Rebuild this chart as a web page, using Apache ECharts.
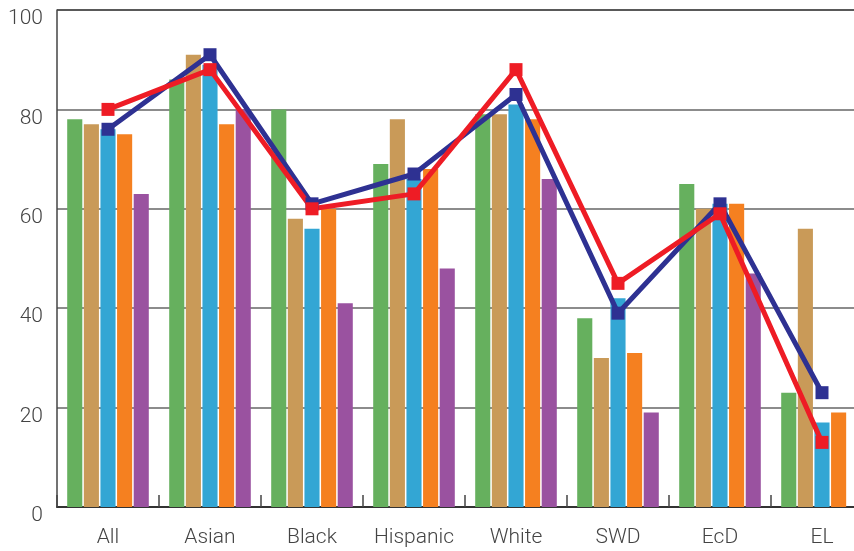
<!DOCTYPE html>
<html>
<head>
<meta charset="utf-8">
<script src="https://cdn.jsdelivr.net/npm/echarts@6/dist/echarts.min.js"></script>
<style>html,body{margin:0;padding:0;background:#fff}#c{width:854px;height:551px}</style>
</head>
<body>
<div id="c"></div>
<script>
var categories = ['All', 'Asian', 'Black', 'Hispanic', 'White', 'SWD', 'EcD', 'EL'];
var yTicks = [0, 20, 40, 60, 80, 100];
var barGreen  = [78, 86, 80, 69, 79, 38, 65, 23];
var barTan    = [77, 91, 58, 78, 79, 30, 60, 56];
var barBlue   = [76, 89, 56, 66, 81, 42, 61, 17];
var barOrange = [75, 77, 60, 68, 78, 31, 61, 19];
var barPurple = [63, 80, 41, 48, 66, 19, 47, null];
var lineNavy  = [76, 91, 61, 67, 83, 39, 61, 23];
var lineRed   = [80, 88, 60, 63, 88, 45, 59, 13];

var chart = echarts.init(document.getElementById('c'));
var font = 'Roboto';
function bar(name, data, color) {
  return { name: name, type: 'bar', data: data, barCategoryGap: '20%', barGap: '10%',
    itemStyle: { color: color }, silent: true };
}
function line(name, data, color) {
  return { name: name, type: 'line', data: data, symbol: 'rect', symbolSize: 13,
    lineStyle: { color: color, width: 5 }, itemStyle: { color: color },
    z: 5, silent: true, animation: false };
}
chart.setOption({
  animation: false,
  grid: { left: 57, top: 10, width: 816, height: 497, outerBoundsMode: 'none', containLabel: false },
  xAxis: {
    type: 'category', data: categories,
    axisLine: { lineStyle: { color: '#333', width: 2 } },
    axisTick: { show: true, inside: true, length: 12, lineStyle: { color: '#444', width: 1.5 } },
    axisLabel: { interval: 0, color: '#444', fontSize: 21, fontFamily: font, fontWeight: 300, margin: 20 }
  },
  yAxis: {
    type: 'value', min: yTicks[0], max: yTicks[yTicks.length - 1], interval: 20,
    axisLine: { show: true, lineStyle: { color: '#444', width: 1.5 } },
    axisTick: { show: false },
    axisLabel: { color: '#444', fontSize: 21, fontFamily: font, fontWeight: 300, margin: 14,
      verticalAlign: 'top', lineHeight: 18 },
    splitLine: { show: true, lineStyle: { color: ['#333', '#666', '#666', '#666', '#666', '#222'], width: 1.5 } }
  },
  series: [
    bar('g', barGreen, '#66b05e'),
    bar('t', barTan, '#c99a58'),
    bar('b', barBlue, '#33a6d4'),
    bar('o', barOrange, '#f58020'),
    bar('p', barPurple, '#9a52a0'),
    line('navy', lineNavy, '#2e3192'),
    line('red', lineRed, '#ee1c25')
  ]
});
</script>
</body>
</html>
